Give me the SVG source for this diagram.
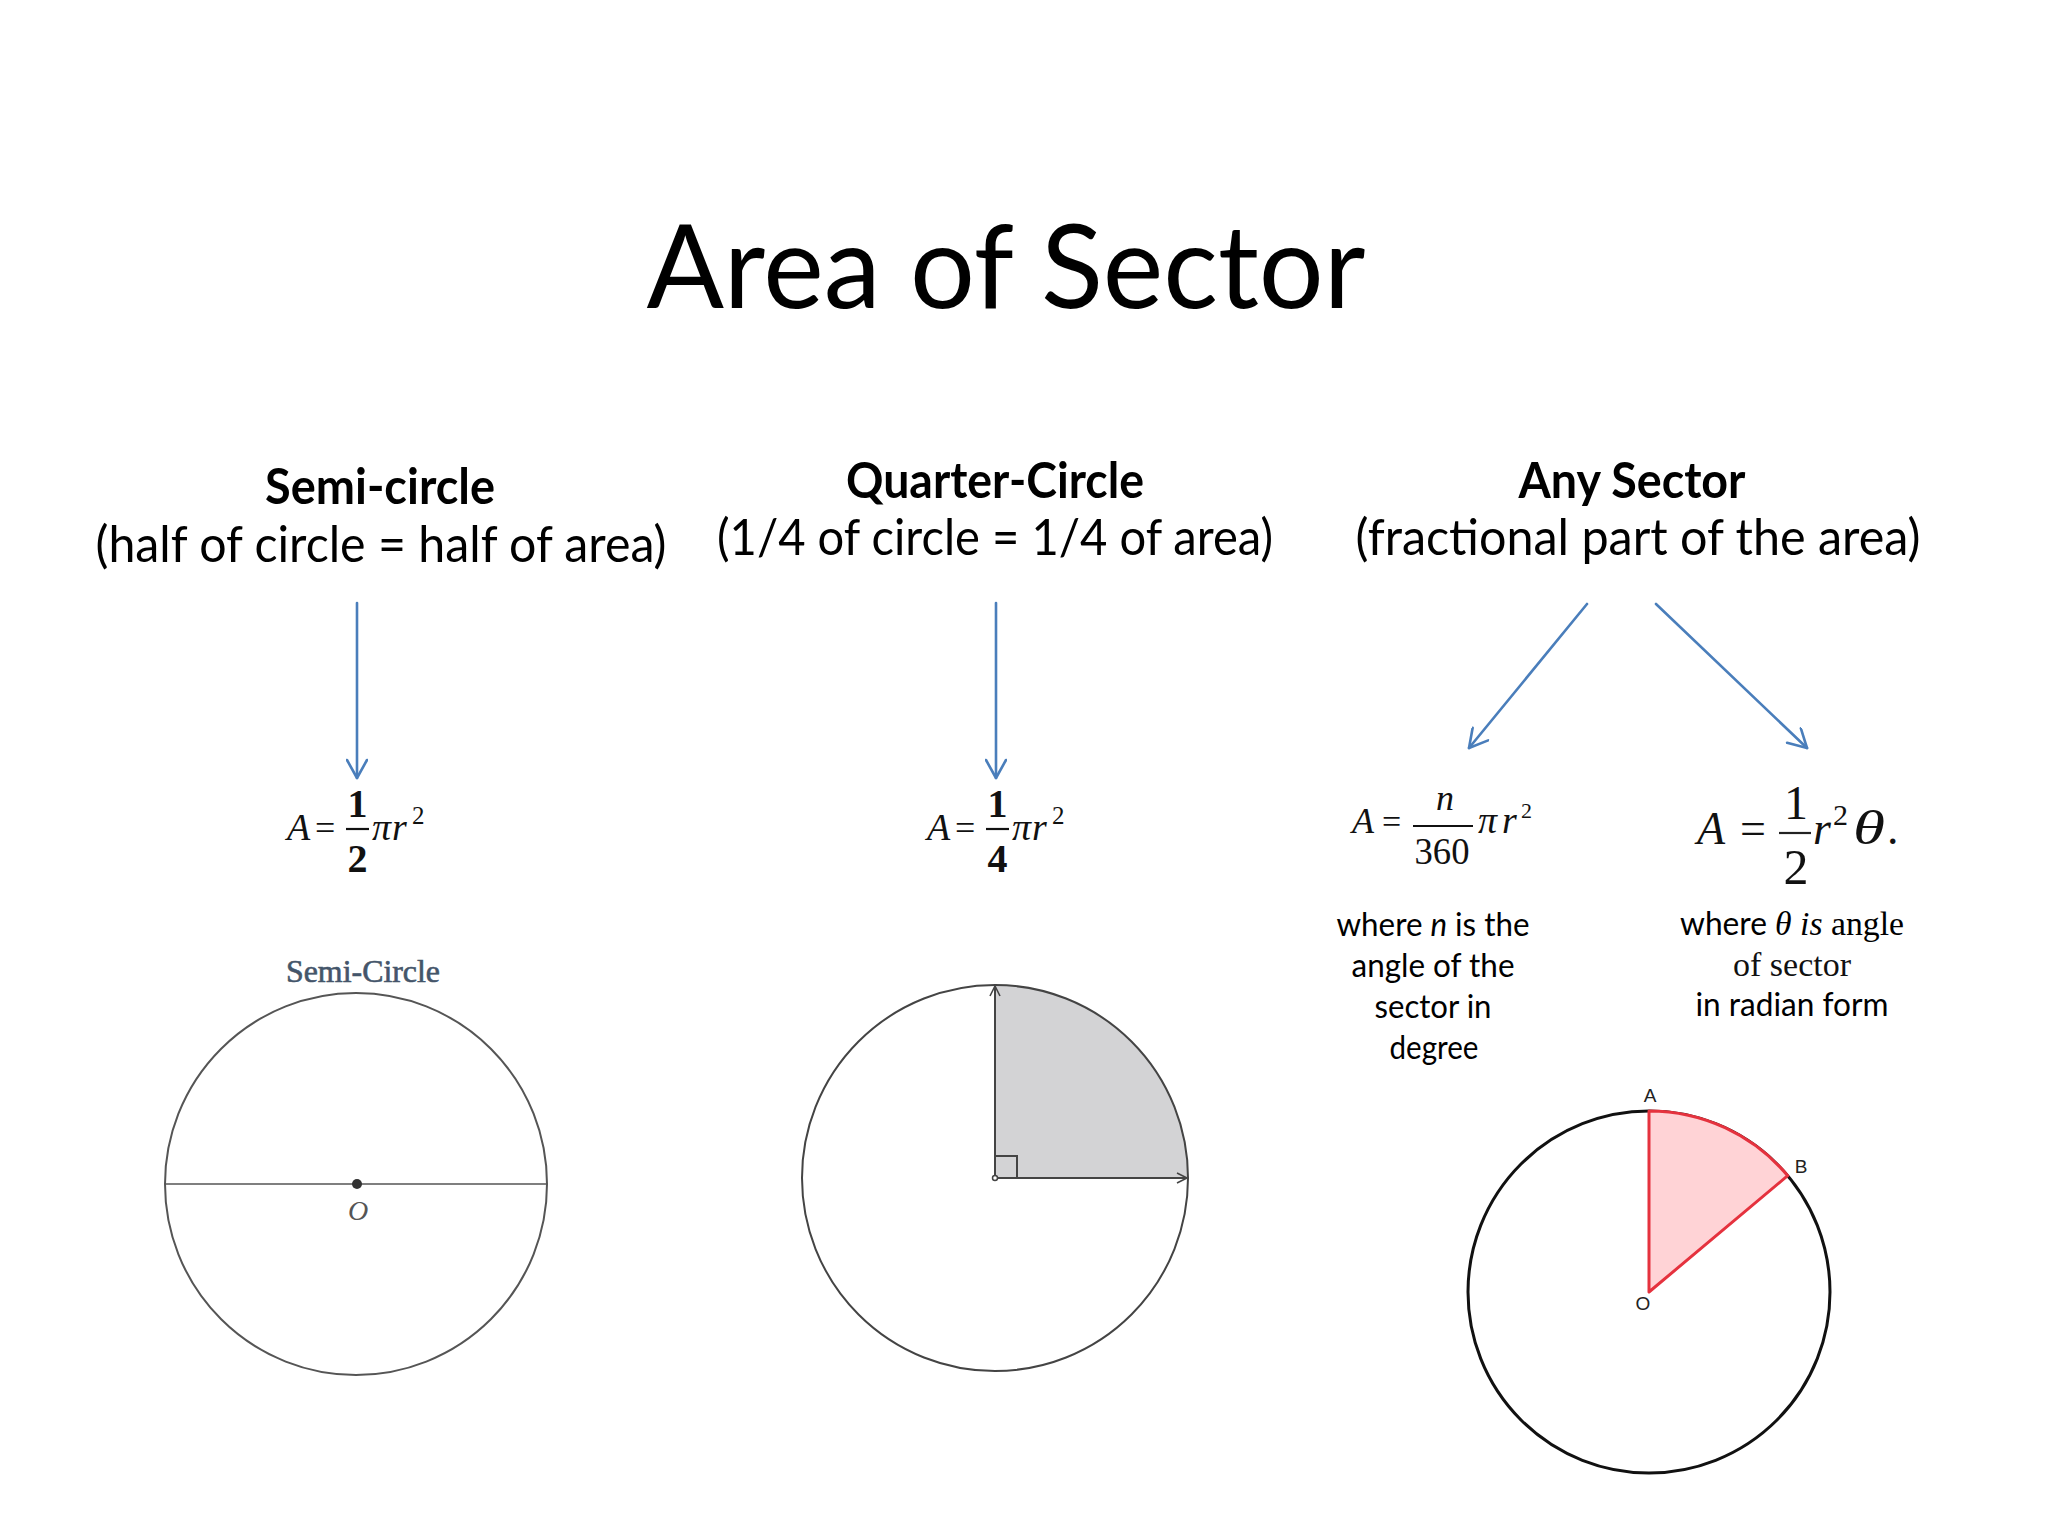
<svg xmlns="http://www.w3.org/2000/svg" width="2048" height="1536" viewBox="0 0 2048 1536">
  <defs>
    <style>
      .sans { font-family: Lato, "Liberation Sans", sans-serif; fill: #000; }
      .bold { font-weight: bold; }
      .serif { font-family: "Liberation Serif", "DejaVu Serif", serif; fill: #111; }
      .it { font-style: italic; }
      .conn { stroke: #4a7ebb; stroke-width: 2.6; fill: none; stroke-linecap: round; }
      .fig { fill: none; stroke: #444; stroke-width: 2; }
      .lbl { font-family: "Liberation Sans", Arial, sans-serif; fill: #222; font-size: 19px; }
    </style>
    <marker id="arrow" viewBox="0 0 22 22" markerWidth="22" markerHeight="22" refX="20" refY="11" orient="auto" markerUnits="userSpaceOnUse">
      <path d="M2,1 L20,11 L2,21" fill="none" stroke="#4a7ebb" stroke-width="2.6" stroke-linecap="round" stroke-linejoin="round"/>
    </marker>
    <marker id="tick" viewBox="0 0 14 14" markerWidth="14" markerHeight="14" refX="12" refY="7" orient="auto" markerUnits="userSpaceOnUse">
      <path d="M2,2 L12,7 L2,12" fill="none" stroke="#444" stroke-width="1.6"/>
    </marker>
  </defs>

  <rect width="2048" height="1536" fill="#fff"/>

  <g id="title">
    <text class="sans" x="1006" y="308" font-size="117" text-anchor="middle" textLength="719" lengthAdjust="spacingAndGlyphs">Area of Sector</text>
  </g>

  <g id="heading-semi">
    <text class="sans bold" x="380" y="504" font-size="50" text-anchor="middle" textLength="230" lengthAdjust="spacingAndGlyphs">Semi-circle</text>
    <text class="sans" x="381" y="562" font-size="50" text-anchor="middle" textLength="571" lengthAdjust="spacingAndGlyphs">(half of circle = half of area)</text>
  </g>

  <g id="heading-quarter">
    <text class="sans bold" x="995" y="498" font-size="50" text-anchor="middle" textLength="298" lengthAdjust="spacingAndGlyphs">Quarter-Circle</text>
    <text class="sans" x="995" y="555" font-size="50" text-anchor="middle" textLength="556" lengthAdjust="spacingAndGlyphs">(1/4 of circle = 1/4 of area)</text>
  </g>

  <g id="heading-sector">
    <text class="sans bold" x="1632" y="498" font-size="50" text-anchor="middle" textLength="227" lengthAdjust="spacingAndGlyphs">Any Sector</text>
    <text class="sans" x="1638" y="555" font-size="50" text-anchor="middle" textLength="565" lengthAdjust="spacingAndGlyphs">(fractional part of the area)</text>
  </g>

  <g id="connectors">
    <line class="conn" x1="357" y1="603" x2="357" y2="778" marker-end="url(#arrow)"/>
    <line class="conn" x1="996" y1="603" x2="996" y2="778" marker-end="url(#arrow)"/>
    <line class="conn" x1="1587" y1="604" x2="1469" y2="748" marker-end="url(#arrow)"/>
    <line class="conn" x1="1656" y1="604" x2="1807" y2="748" marker-end="url(#arrow)"/>
  </g>

  <g id="formula-semi">
    <text class="serif it" x="287" y="840" font-size="38">A</text>
    <text class="serif" x="315" y="840" font-size="36">=</text>
    <line x1="346" y1="829" x2="369" y2="829" stroke="#111" stroke-width="2.2"/>
    <text class="serif bold" x="357.5" y="817" font-size="40" text-anchor="middle">1</text>
    <text class="serif bold" x="357.5" y="872" font-size="40" text-anchor="middle">2</text>
    <text class="serif it" x="372" y="840" font-size="38" letter-spacing="1">πr</text>
    <text class="serif" x="412" y="824" font-size="25">2</text>
  </g>

  <g id="formula-quarter">
    <text class="serif it" x="927" y="840" font-size="38">A</text>
    <text class="serif" x="955" y="840" font-size="36">=</text>
    <line x1="986" y1="829" x2="1009" y2="829" stroke="#111" stroke-width="2.2"/>
    <text class="serif bold" x="997.5" y="817" font-size="40" text-anchor="middle">1</text>
    <text class="serif bold" x="997.5" y="872" font-size="40" text-anchor="middle">4</text>
    <text class="serif it" x="1012" y="840" font-size="38" letter-spacing="1">πr</text>
    <text class="serif" x="1052" y="824" font-size="25">2</text>
  </g>

  <g id="formula-degree">
    <text class="serif it" x="1352" y="833" font-size="36">A</text>
    <text class="serif" x="1382" y="833" font-size="34">=</text>
    <line x1="1413" y1="826" x2="1473" y2="826" stroke="#111" stroke-width="1.8"/>
    <text class="serif it" x="1445" y="810" font-size="36" text-anchor="middle">n</text>
    <text class="serif" x="1442" y="864" font-size="38" text-anchor="middle" textLength="55" lengthAdjust="spacingAndGlyphs">360</text>
    <text class="serif it" x="1478" y="833" font-size="38" letter-spacing="5">πr</text>
    <text class="serif" x="1521" y="818" font-size="22">2</text>
  </g>

  <g id="formula-radian">
    <text class="serif it" x="1697" y="844" font-size="46" fill="#222">A</text>
    <text class="serif" x="1740" y="844" font-size="46" fill="#222">=</text>
    <line x1="1779" y1="833" x2="1811" y2="833" stroke="#222" stroke-width="2.2"/>
    <text class="serif" x="1796" y="819" font-size="48" text-anchor="middle" fill="#222">1</text>
    <text class="serif" x="1796" y="884" font-size="50" text-anchor="middle" fill="#222">2</text>
    <text class="serif it" x="1813" y="844" font-size="46" fill="#222">r</text>
    <text class="serif" x="1833" y="825" font-size="30" fill="#222">2</text>
    <text class="serif it" x="1853" y="844" font-size="48" fill="#222" textLength="32" lengthAdjust="spacingAndGlyphs">θ</text>
    <text class="serif" x="1887" y="844" font-size="46" fill="#222">.</text>
  </g>

  <g id="desc-degree">
    <text class="sans" x="1433" y="936" font-size="32" text-anchor="middle" textLength="193" lengthAdjust="spacingAndGlyphs">where <tspan font-style="italic">n</tspan> is the</text>
    <text class="sans" x="1433" y="977" font-size="32" text-anchor="middle" textLength="163" lengthAdjust="spacingAndGlyphs">angle of the</text>
    <text class="sans" x="1433" y="1018" font-size="32" text-anchor="middle" textLength="117" lengthAdjust="spacingAndGlyphs">sector in</text>
    <text class="sans" x="1434" y="1059" font-size="32" text-anchor="middle" textLength="89" lengthAdjust="spacingAndGlyphs">degree</text>
  </g>

  <g id="desc-radian">
    <text class="sans" x="1792" y="935" font-size="32" text-anchor="middle" textLength="224" lengthAdjust="spacingAndGlyphs">where <tspan font-family="Liberation Serif, serif" font-style="italic" font-size="34">θ is</tspan><tspan font-family="Liberation Serif, serif" font-size="34"> angle</tspan></text>
    <text class="serif" x="1792" y="976" font-size="34" text-anchor="middle" textLength="118" lengthAdjust="spacingAndGlyphs">of sector</text>
    <text class="sans" x="1792" y="1016" font-size="32" text-anchor="middle" textLength="193" lengthAdjust="spacingAndGlyphs">in radian form</text>
  </g>

  <g id="fig-semi">
    <text x="363" y="982" font-family="Liberation Serif, serif" font-size="31" fill="#44556a" stroke="#44556a" stroke-width="0.6" text-anchor="middle" textLength="154" lengthAdjust="spacingAndGlyphs">Semi-Circle</text>
    <circle cx="356" cy="1184" r="191" fill="none" stroke="#555" stroke-width="2"/>
    <line x1="165" y1="1184" x2="547" y2="1184" stroke="#555" stroke-width="1.6"/>
    <circle cx="357" cy="1184" r="5" fill="#333"/>
    <text x="358" y="1220" font-family="Liberation Serif, serif" font-style="italic" font-size="28" fill="#555" text-anchor="middle">O</text>
  </g>

  <g id="fig-quarter">
    <path d="M995,1178 L995,985 A193,193 0 0 1 1188,1178 Z" fill="#d3d3d5"/>
    <circle class="fig" cx="995" cy="1178" r="193"/>
    <line class="fig" x1="995" y1="1178" x2="995" y2="986" marker-end="url(#tick)"/>
    <line class="fig" x1="995" y1="1178" x2="1187" y2="1178" marker-end="url(#tick)"/>
    <path class="fig" d="M995,1156 L1017,1156 L1017,1178"/>
    <circle cx="995" cy="1178" r="2.5" fill="#fff" stroke="#444" stroke-width="1.5"/>
  </g>

  <g id="fig-sector">
    <circle cx="1649" cy="1292" r="181" fill="none" stroke="#111" stroke-width="3"/>
    <path d="M1649,1292 L1649,1111 A181,181 0 0 1 1787.7,1175.7 Z" fill="#ffd3d6" stroke="#e5323e" stroke-width="3" stroke-linejoin="round"/>
    <text class="lbl" x="1650" y="1102" text-anchor="middle">A</text>
    <text class="lbl" x="1801" y="1173" text-anchor="middle">B</text>
    <text class="lbl" x="1643" y="1310" text-anchor="middle">O</text>
  </g>
</svg>
